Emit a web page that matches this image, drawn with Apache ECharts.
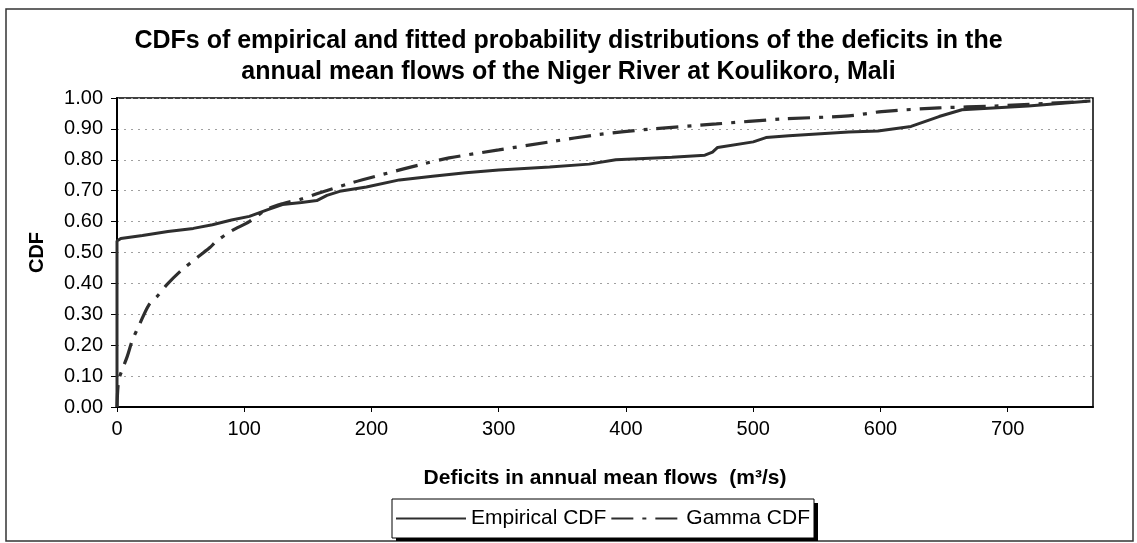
<!DOCTYPE html>
<html>
<head>
<meta charset="utf-8">
<script src="https://cdn.jsdelivr.net/npm/echarts@6/dist/echarts.min.js"></script>
<style>
html,body{margin:0;padding:0;background:#fff;}
#chart{width:1137px;height:543px;}
</style>
</head>
<body>
<div id="chart"></div>
<script>
// ---- Data ----
const titleLines = [
  'CDFs of empirical and fitted probability distributions of the deficits in the',
  'annual mean flows of the Niger River at Koulikoro, Mali'
];
const xAxisTitle = 'Deficits in annual mean flows  (m\u00B3/s)';
const yAxisTitle = 'CDF';
const seriesNames = ['Empirical CDF', 'Gamma CDF'];
const xTicks = [0, 100, 200, 300, 400, 500, 600, 700];
const xMax = 767;
const yTicks = [0, 0.1, 0.2, 0.3, 0.4, 0.5, 0.6, 0.7, 0.8, 0.9, 1.0];

// Empirical CDF: deficit (m3/s) and CDF value
const empX = [0, 0, 3, 20, 40, 60, 75, 90, 104, 118, 130, 145, 157, 165, 175, 196, 222, 248, 274, 300, 340, 371, 392, 436, 462, 468, 472, 500, 510, 528, 575, 598, 624, 646, 664, 716, 765];
const empY = [0, 0.537, 0.545, 0.555, 0.568, 0.578, 0.590, 0.605, 0.617, 0.638, 0.655, 0.662, 0.668, 0.685, 0.698, 0.712, 0.735, 0.747, 0.758, 0.767, 0.777, 0.786, 0.800, 0.808, 0.815, 0.825, 0.840, 0.858, 0.872, 0.878, 0.890, 0.893, 0.908, 0.940, 0.962, 0.974, 0.990];

// Fitted Gamma CDF
const gamX = [0, 0.5, 1.5, 4, 8, 12, 18, 25, 32, 39, 50, 64, 73, 78, 90, 104, 118, 130, 144, 157, 183, 209, 240, 261, 300, 340, 379, 418, 471, 522, 575, 601, 646, 690, 765];
const gamY = [0, 0.05, 0.09, 0.12, 0.163, 0.215, 0.27, 0.33, 0.36, 0.395, 0.44, 0.487, 0.516, 0.536, 0.57, 0.60, 0.64, 0.658, 0.672, 0.69, 0.724, 0.753, 0.786, 0.806, 0.832, 0.858, 0.882, 0.899, 0.916, 0.932, 0.942, 0.956, 0.968, 0.974, 0.990];

// ---- Chart ----
const FONT = 'Arial, "Liberation Sans", sans-serif';
const chart = echarts.init(document.getElementById('chart'), null, {renderer: 'canvas'});
const pair = (xs, ys) => xs.map((x, i) => [x, ys[i]]);
const lineColor = '#2e2e2e';

chart.setOption({
  backgroundColor: '#fff',
  animation: false,
  title: {
    text: titleLines.join('\n'),
    left: 'center',
    top: 21,
    padding: [5, 25, 5, 0],
    textStyle: {fontFamily: FONT, fontSize: 25, fontWeight: 'bold', color: '#000', lineHeight: 31, align: 'center'}
  },
  graphic: [
    {
      type: 'rect',
      shape: {x: 6, y: 9, width: 1127, height: 532},
      style: {fill: 'none', stroke: '#333', lineWidth: 1.5},
      silent: true,
      z: -10
    },
    {
      // drop shadow of the legend box
      type: 'rect',
      shape: {x: 396, y: 503, width: 422, height: 38},
      style: {fill: '#000'},
      silent: true,
      z: 0
    }
  ],
  grid: {
    left: 117, top: 98, right: 44, bottom: 136,
    show: true, borderColor: '#000', borderWidth: 1.5, backgroundColor: '#fff'
  },
  legend: {
    data: seriesNames,
    left: 392, top: 499,
    orient: 'horizontal',
    itemWidth: 70, itemHeight: 4, itemGap: 4,
    padding: [9, 4, 9, 3],
    backgroundColor: '#fff',
    borderColor: '#000', borderWidth: 1,
    z: 10,
    itemStyle: {color: 'rgba(0,0,0,0)', borderWidth: 0, opacity: 0},
    textStyle: {fontFamily: FONT, fontSize: 21, color: '#000'}
  },
  xAxis: {
    type: 'value', min: 0, max: xMax, interval: 100,
    name: xAxisTitle, nameLocation: 'middle', nameGap: 61,
    nameTextStyle: {fontFamily: FONT, fontSize: 21, fontWeight: 'bold', color: '#000'},
    axisLine: {show: true, onZero: false, lineStyle: {color: '#000', width: 2}},
    axisTick: {show: true, inside: false, length: 5, lineStyle: {color: '#000', width: 1}, customValues: xTicks},
    axisLabel: {fontFamily: FONT, fontSize: 20, color: '#000', margin: 12, customValues: xTicks},
    splitLine: {show: false}
  },
  yAxis: {
    type: 'value', min: 0, max: 1, interval: 0.1,
    name: yAxisTitle, nameLocation: 'middle', nameRotate: 90, nameGap: 70,
    nameTextStyle: {fontFamily: FONT, fontSize: 20, fontWeight: 'bold', color: '#000'},
    axisLine: {show: true, onZero: false, lineStyle: {color: '#000', width: 2}},
    axisTick: {show: true, inside: false, length: 6, lineStyle: {color: '#000', width: 1}, customValues: yTicks},
    axisLabel: {fontFamily: FONT, fontSize: 20, color: '#000', margin: 14, customValues: yTicks,
      formatter: v => Number(v).toFixed(2)},
    splitLine: {show: true, lineStyle: {color: '#a0a0a0', width: 1, type: [2, 5]}}
  },
  series: [
    {
      name: seriesNames[0], type: 'line', data: pair(empX, empY),
      showSymbol: false, symbol: 'none', smooth: false,
      lineStyle: {color: lineColor, width: 3, type: 'solid'},
      itemStyle: {color: lineColor}, z: 3
    },
    {
      name: seriesNames[1], type: 'line', data: pair(gamX, gamY),
      showSymbol: false, symbol: 'none', smooth: 0.3,
      lineStyle: {color: lineColor, width: 3.2, type: [22, 9, 4, 9]},
      itemStyle: {color: lineColor}, z: 4
    }
  ]
});
</script>
</body>
</html>
